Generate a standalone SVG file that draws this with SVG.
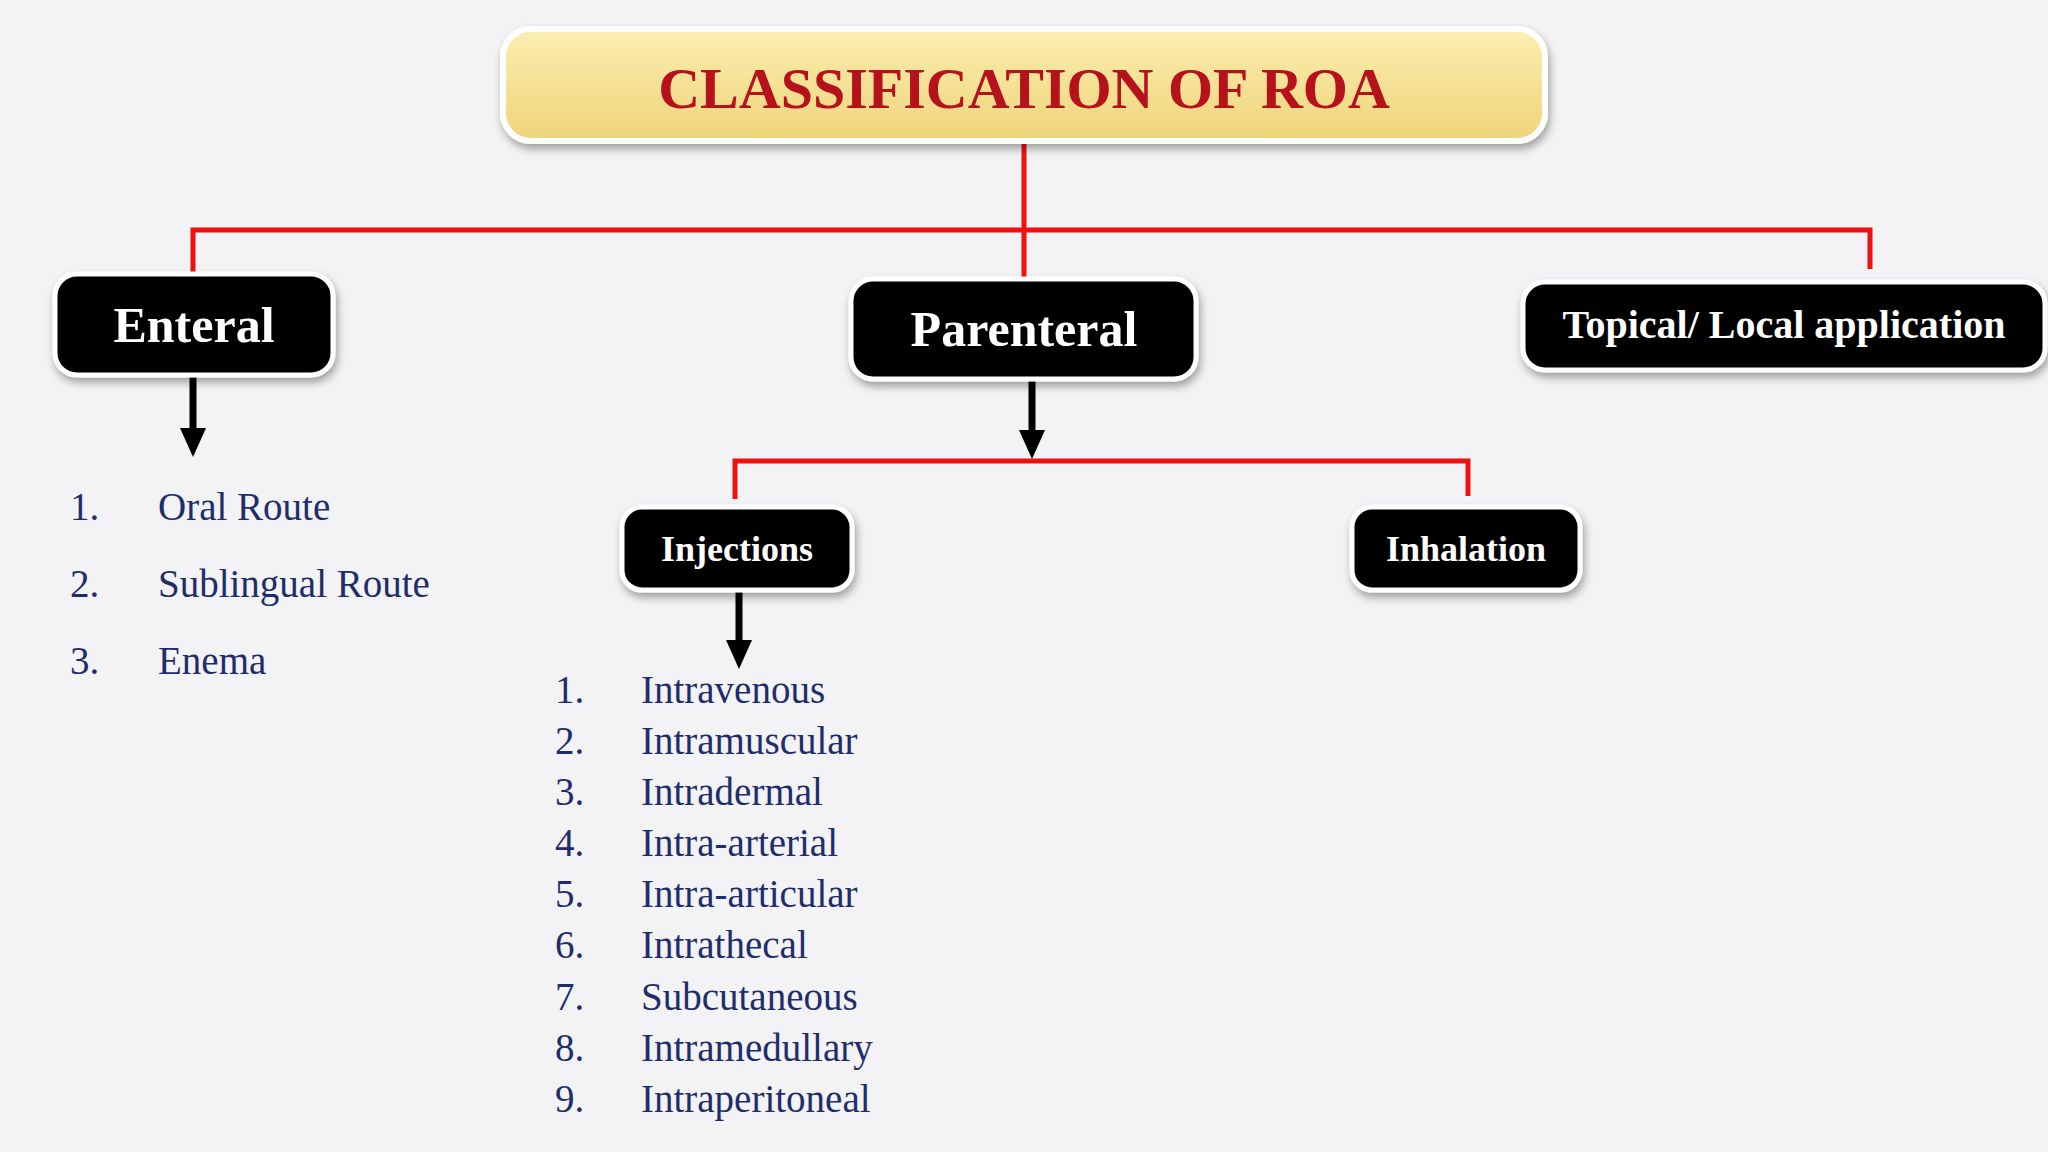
<svg xmlns="http://www.w3.org/2000/svg" width="2048" height="1152" viewBox="0 0 2048 1152">
<defs>
<linearGradient id="gold" x1="0" y1="0" x2="0" y2="1"><stop offset="0" stop-color="#fbeeb0"/><stop offset="1" stop-color="#efd47a"/></linearGradient>
<filter id="sh" x="-10%" y="-20%" width="120%" height="150%"><feDropShadow dx="2" dy="5" stdDeviation="4" flood-color="#000" flood-opacity="0.35"/></filter>
<marker id="ah" viewBox="0 0 10 10" refX="5" refY="9" markerWidth="4" markerHeight="4" orient="auto-start-reverse" markerUnits="strokeWidth"><path d="M0,0 L10,0 L5,10 Z" transform="rotate(0)" fill="#000"/></marker>
</defs>
<style>
.box{fill:#000;stroke:#fff;stroke-width:5;filter:url(#sh)}
.bt{fill:#fff;font-family:"Liberation Serif",serif;font-weight:bold;text-anchor:middle}
.red{stroke:#ee1111;stroke-width:5;fill:none}
.arr{stroke:#000;stroke-width:7;fill:none}
.li{fill:#1f2d6b;font-family:"Liberation Serif",serif;font-size:39px}
</style>
<rect width="2048" height="1152" fill="#f3f2f4"/>
<g id="connectors">
<path class="red" d="M1024,144 V277 M193,272 V230 H1870 V269"/>
<path class="red" d="M735,499 V461 H1468 V496"/>
<line class="arr" x1="193" y1="375" x2="193" y2="430"/><path d="M180,428 L206,428 L193,457 Z"/>
<line class="arr" x1="1032" y1="379" x2="1032" y2="432"/><path d="M1019,430 L1045,430 L1032,459 Z"/>
<line class="arr" x1="739" y1="588" x2="739" y2="642"/><path d="M726,640 L752,640 L739,669 Z"/>
</g>
<g id="title">
<rect x="503" y="29" width="1042" height="112" rx="28" fill="url(#gold)" stroke="#fff" stroke-width="6" filter="url(#sh)"/>
<text x="1024" y="108" text-anchor="middle" font-family="Liberation Serif,serif" font-weight="bold" font-size="58" fill="#b5121b">CLASSIFICATION OF ROA</text>
</g>
<g id="enteral"><rect class="box" x="55" y="274" width="278" height="101" rx="22"/><text class="bt" x="194" y="342" font-size="50">Enteral</text></g>
<g id="parenteral"><rect class="box" x="851" y="279" width="345" height="100" rx="22"/><text class="bt" x="1024" y="346" font-size="50">Parenteral</text></g>
<g id="topical"><rect class="box" x="1523" y="282" width="522" height="88" rx="22"/><text class="bt" x="1784" y="338" font-size="40">Topical/ Local application</text></g>
<g id="injections"><rect class="box" x="622" y="507" width="230" height="83" rx="20"/><text class="bt" x="737" y="561" font-size="36">Injections</text></g>
<g id="inhalation"><rect class="box" x="1352" y="507" width="228" height="83" rx="20"/><text class="bt" x="1466" y="561" font-size="36">Inhalation</text></g>
<g id="enteral-list" class="li">
<text x="70" y="520">1.</text><text x="158" y="520">Oral Route</text>
<text x="70" y="597">2.</text><text x="158" y="597">Sublingual Route</text>
<text x="70" y="674">3.</text><text x="158" y="674">Enema</text>
</g>
<g id="injection-list" class="li">
<text x="555" y="703">1.</text><text x="641" y="703">Intravenous</text>
<text x="555" y="754">2.</text><text x="641" y="754">Intramuscular</text>
<text x="555" y="805">3.</text><text x="641" y="805">Intradermal</text>
<text x="555" y="856">4.</text><text x="641" y="856">Intra-arterial</text>
<text x="555" y="907">5.</text><text x="641" y="907">Intra-articular</text>
<text x="555" y="958">6.</text><text x="641" y="958">Intrathecal</text>
<text x="555" y="1010">7.</text><text x="641" y="1010">Subcutaneous</text>
<text x="555" y="1061">8.</text><text x="641" y="1061">Intramedullary</text>
<text x="555" y="1112">9.</text><text x="641" y="1112">Intraperitoneal</text>
</g>
</svg>
